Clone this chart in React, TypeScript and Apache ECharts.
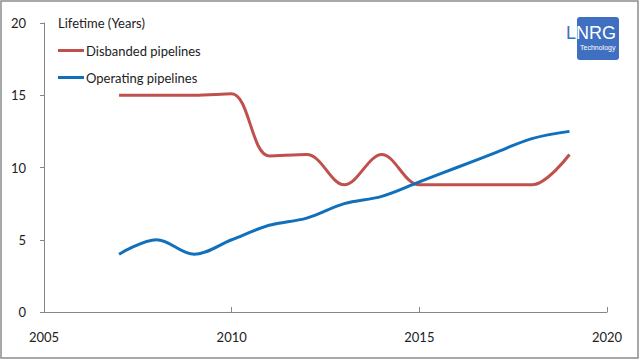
import React, { useEffect, useRef } from "react";
import * as echarts from "echarts";

const years = [2007, 2008, 2009, 2010, 2011, 2012, 2013, 2014, 2015, 2016, 2017, 2018, 2019];
const disbanded = [15, 15, 15, 15.1, 10.8, 10.9, 8.8, 10.9, 8.8, 8.8, 8.8, 8.8, 10.9];
const operating = [4, 5, 4, 5, 6, 6.5, 7.5, 8, 9, 10, 11, 12, 12.5];
const seriesNames = ["Disbanded pipelines", "Operating pipelines"];
const yTitle = "Lifetime (Years)";

const FONT = "Lato, 'Open Sans', sans-serif";

export default function App() {
  const ref = useRef<HTMLDivElement>(null);
  useEffect(() => {
    const chart = echarts.init(ref.current!, undefined, { renderer: "svg" });
    const axisColor = "#868686";
    chart.setOption({
      animation: false,
      backgroundColor: "#ffffff",
      textStyle: { fontFamily: FONT },
      title: {
        text: yTitle,
        left: 53,
        top: 11,
        textStyle: { fontFamily: FONT, fontSize: 13, fontWeight: "normal", color: "#222" },
      },
      legend: {
        orient: "vertical",
        left: 53,
        top: 39,
        icon: "rect",
        itemWidth: 26,
        itemHeight: 3,
        itemGap: 14,
        data: seriesNames,
        textStyle: { fontFamily: FONT, fontSize: 13, color: "#222", padding: [0, 0, 0, -3] },
      },
      grid: { left: 44, right: 33, top: 23, bottom: 48, containLabel: false },
      xAxis: {
        type: "value",
        min: 2005,
        max: 2020,
        interval: 5,
        axisLine: { lineStyle: { color: axisColor, width: 1 } },
        axisTick: { inside: true, length: 5, lineStyle: { color: axisColor } },
        axisLabel: {
          color: "#222",
          fontSize: 13,
          fontFamily: FONT,
          margin: 18,
          formatter: (v: number) => String(v),
        },
        splitLine: { show: false },
      },
      yAxis: {
        type: "value",
        min: 0,
        max: 20,
        interval: 5,
        axisLine: { show: true, lineStyle: { color: axisColor, width: 1 } },
        axisTick: { show: true, length: 4, lineStyle: { color: axisColor } },
        axisLabel: { color: "#222", fontSize: 13, fontFamily: FONT, margin: 18 },
        splitLine: { show: false },
      },
      series: [
        {
          name: seriesNames[0],
          type: "line",
          smooth: 0.35,
          showSymbol: false,
          symbol: "none",
          lineStyle: { color: "#C0504D", width: 3 },
          itemStyle: { color: "#C0504D" },
          data: years.map((y, i) => [y, disbanded[i]]),
        },
        {
          name: seriesNames[1],
          type: "line",
          smooth: 0.35,
          showSymbol: false,
          symbol: "none",
          lineStyle: { color: "#1070BC", width: 3 },
          itemStyle: { color: "#1070BC" },
          data: years.map((y, i) => [y, operating[i]]),
        },
      ],
      graphic: [
        {
          type: "rect",
          shape: { x: 1, y: 1, width: 637, height: 357 },
          style: { fill: "none", stroke: "#8c8c8c", lineWidth: 1.5 },
          silent: true,
        },
        {
          type: "rect",
          shape: { x: 577, y: 17, width: 42, height: 43, r: 3 },
          style: { fill: "#3F6FC0" },
        },
        {
          type: "text",
          x: 566,
          y: 24,
          style: { text: "L", fill: "#3F6FC0", font: "18px 'Liberation Sans', sans-serif" },
        },
        {
          type: "text",
          x: 576,
          y: 24,
          style: { text: "NRG", fill: "#ffffff", font: "18px 'Liberation Sans', sans-serif" },
        },
        {
          type: "text",
          x: 580,
          y: 44,
          style: { text: "Technology", fill: "#ffffff", font: "7px 'Liberation Sans', sans-serif" },
        },
      ],
    });
    return () => chart.dispose();
  }, []);
  return <div ref={ref} style={{ width: 640, height: 360, position: "absolute", left: 0, top: 0 }} />;
}
